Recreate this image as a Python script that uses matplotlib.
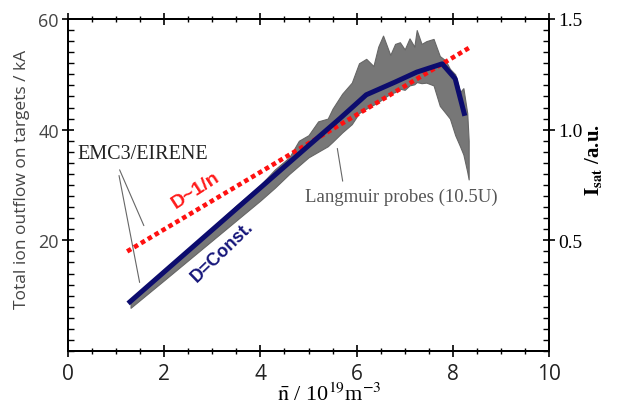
import matplotlib
matplotlib.use("Agg")
import matplotlib.pyplot as plt
from matplotlib.ticker import MultipleLocator

# ---- data ----
# Langmuir probe signal (noise envelope)
lp_x = [1.3, 2.0, 3.0, 3.5, 4.0, 4.3, 4.6, 4.8, 5.0, 5.2, 5.4, 5.5, 5.7, 5.9, 6.05, 6.2, 6.35, 6.45,
        6.55, 6.7, 6.8, 6.9, 7.0, 7.1, 7.2, 7.25, 7.35, 7.45, 7.6, 7.73, 7.85, 7.94, 8.05, 8.15, 8.22, 8.3, 8.33]
lp_upper = [9.3, 14.8, 22.3, 26.3, 30.0, 32.8, 35.0, 38.0, 39.0, 41.5, 42.0, 43.8, 46.5, 48.5, 52.0, 52.8, 51.5, 55.0,
            57.0, 53.5, 55.5, 55.8, 54.5, 56.5, 55.0, 58.0, 55.5, 56.0, 56.4, 53.3, 52.5, 51.0, 50.0, 46.8, 47.5, 43.0, 38.0]
lp_lower = [7.8, 12.8, 20.0, 23.6, 27.2, 29.5, 32.0, 33.5, 35.0, 36.0, 37.0, 37.8, 39.5, 41.0, 43.0, 43.8, 44.5, 45.0,
            45.6, 46.5, 46.8, 47.4, 47.2, 48.0, 48.2, 48.6, 48.4, 48.5, 48.0, 44.3, 43.0, 42.0, 39.0, 37.0, 35.5, 32.4, 31.0]

# EMC3/EIRENE, D = const.
const_x = [1.25, 2.0, 3.0, 4.0, 5.0, 5.65, 6.2, 6.8, 7.25, 7.78, 8.05, 8.25]
const_y = [8.6, 14.3, 21.9, 29.5, 37.1, 42.0, 46.3, 48.6, 50.4, 51.9, 49.2, 42.5]

# EMC3/EIRENE, D ~ 1/n
inv_x = [1.23, 8.38]
inv_y = [18.0, 55.0]

x_ticks = [0, 2, 4, 6, 8, 10]
y_ticks = [20, 40, 60]
y2_ticks = [0.5, 1.0, 1.5]

fig = plt.figure(figsize=(6.22, 4.10), dpi=100)
ax = fig.add_axes([68/622, 1-352/410, (549-68)/622, (352-20)/410])

ax.fill_between(lp_x, lp_lower, lp_upper, color="#777777", linewidth=0.8, edgecolor="#666666", zorder=2)
ax.plot(inv_x, inv_y, color="#ff1010", linewidth=3.3, linestyle=(0, (1.0, 0.75)),
        dash_capstyle="butt", zorder=3)
ax.plot(const_x, const_y, color="#0c0c6e", linewidth=3.6, solid_capstyle="butt",
        solid_joinstyle="round", zorder=4)

ax.set_xlim(0, 10)
ax.set_ylim(0, 60)
ax.set_xticks(x_ticks)
ax.set_yticks(y_ticks)
ax.xaxis.set_minor_locator(MultipleLocator(0.5))
ax.yaxis.set_minor_locator(MultipleLocator(2))
ax.tick_params(axis="x", which="major", direction="inout", length=9, width=1.2, top=True,
               labelsize=15, labelcolor="#222222", pad=4)
ax.tick_params(axis="x", which="minor", direction="inout", length=5, width=1.0, top=True)
ax.tick_params(axis="y", which="major", direction="inout", length=9, width=1.2,
               labelsize=13, labelcolor="#444444", pad=2)
ax.tick_params(axis="y", which="minor", direction="in", length=4, width=1.0)
for lab in ax.get_xticklabels() + ax.get_yticklabels():
    lab.set_family("Open Sans")
for s in ax.spines.values():
    s.set_linewidth(1.4)

ax2 = ax.twinx()
ax2.set_ylim(0, 1.5)
ax2.set_yticks(y2_ticks)
ax2.yaxis.set_minor_locator(MultipleLocator(0.05))
ax2.tick_params(axis="y", which="major", direction="inout", length=9, width=1.2,
                labelsize=14, pad=2)
ax2.tick_params(axis="y", which="minor", direction="in", length=4, width=1.0)
for lab in ax2.get_yticklabels():
    lab.set_family("Liberation Serif")
for s in ax2.spines.values():
    s.set_linewidth(1.4)

# annotations
ax.text(0.19, 34.8, "EMC3/EIRENE", family="Liberation Serif", fontsize=14.5,
        color="#222222", va="baseline", ha="left")
ax.annotate("", xy=(1.6, 22.2), xytext=(1.05, 33.2),
            arrowprops=dict(arrowstyle="-", color="#666666", lw=0.8))
ax.annotate("", xy=(1.5, 11.9), xytext=(1.05, 32.2),
            arrowprops=dict(arrowstyle="-", color="#666666", lw=0.8))
ax.text(2.66, 29.2, "D~1/n", family="Liberation Sans", fontweight="bold", fontsize=14,
        color="#ff1a1a", rotation=33, ha="center", va="center")
ax.text(3.2, 18.0, "D=Const.", family="Liberation Sans", fontweight="bold", fontsize=13,
        color="#16167a", rotation=44, ha="center", va="center")
ax.text(6.92, 27.9, "Langmuir probes (10.5U)", family="Liberation Serif", fontsize=13.5,
        color="#555555", ha="center", va="center")
ax.annotate("", xy=(5.59, 37.1), xytext=(5.72, 30.2),
            arrowprops=dict(arrowstyle="-", color="#666666", lw=0.8))

# axis labels
fig.text(22/622, 1-179/410, "Total ion outflow on targets / kA", family="Open Sans",
         fontsize=12.5, color="#444444", rotation=90, ha="center", va="center")
fig.text(593/622, 1-160/410, r"$\mathbf{I_{sat}}$ /a.u.", family="Liberation Serif",
         fontweight="bold", fontsize=15, rotation=90, ha="center", va="center",
         math_fontfamily="stix")
fig.text(329/622, 0.022, r"$\bar{\mathrm{n}}$ / 10$^{19}$m$^{-3}$", family="Liberation Serif",
         fontsize=16, ha="center", va="baseline", math_fontfamily="stix")

fig.savefig("out.png", dpi=100)
